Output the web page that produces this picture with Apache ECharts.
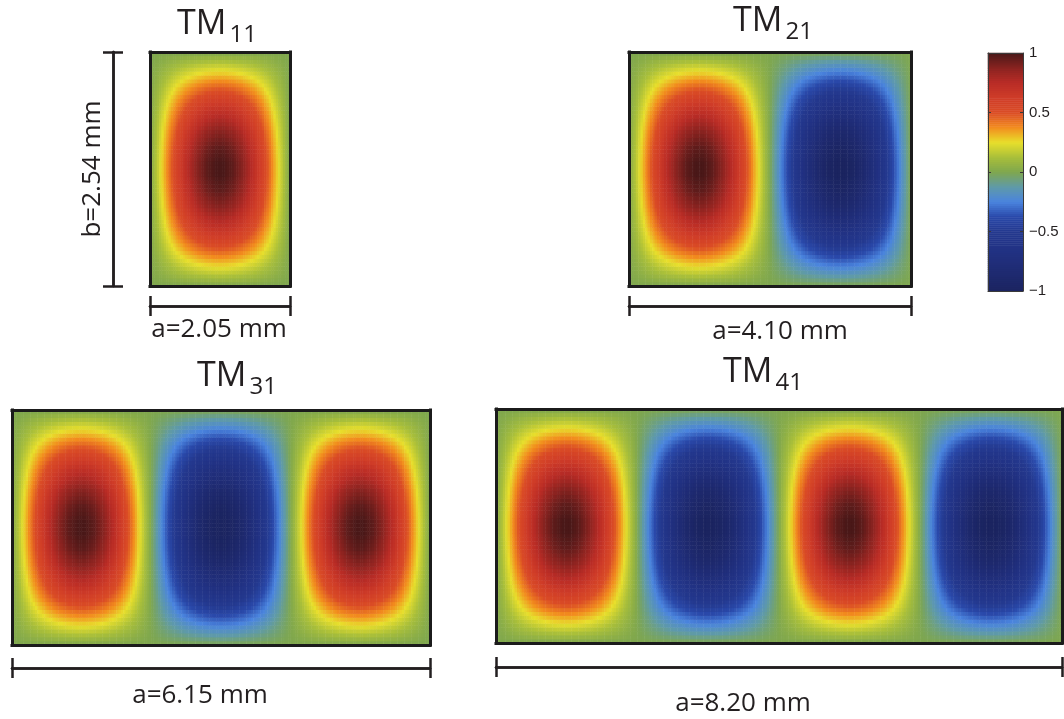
<!DOCTYPE html>
<html>
<head>
<meta charset="utf-8">
<script src="https://cdn.jsdelivr.net/npm/echarts@6/dist/echarts.min.js"></script>
<style>
  html, body { margin: 0; padding: 0; background: #ffffff; }
  #chart { width: 1064px; height: 719px; }
</style>
</head>
<body>
<div id="chart"></div>
<script>
// TM_m1 field patterns over the waveguide cross-section a x b
const modeLabels = ['11', '21', '31', '41'];
const widthsMm = [2.05, 4.10, 6.15, 8.20];
const widthLabels = ['a=2.05 mm', 'a=4.10 mm', 'a=6.15 mm', 'a=8.20 mm'];
const heightMm = 2.54;
const heightLabel = 'b=2.54 mm';

// sign of each half-wave lobe, left to right
const lobeSigns = [[1], [1, -1], [1, -1, 1], [1, -1, 1, -1]];

// normalized field amplitude across one lobe, from the wall to the centre
const halfProfile = [0.03, 0.08, 0.13, 0.18, 0.23, 0.28, 0.33, 0.38, 0.43, 0.48,
                     0.52, 0.57, 0.61, 0.65, 0.69, 0.73, 0.76, 0.79, 0.82, 0.85,
                     0.88, 0.90, 0.92, 0.94, 0.96, 0.97, 0.98, 0.99, 1.00, 1.00];

// colour scale
const scaleMin = -1;
const scaleMax = 1;
const scaleStep = 0.5;
const fieldColors = ['#1b2460', '#1e296e', '#202e7b', '#223386', '#24398f', '#2a49aa',
                     '#4a84de', '#5f9aa8', '#7fa74e', '#a9bf3a', '#e8df2c', '#f28c1e',
                     '#da4c26', '#cf3c28', '#b92c26', '#8a2320', '#4a1818'];

// layout of the four panels (pixels)
const panelBoxes = [
  { left: 150, top: 52,  width: 140, height: 234, barOffset: 20, labelGap: 11, labelShift: -1,  titleGap: 5,  titleShift: -3 },
  { left: 629, top: 52,  width: 282, height: 234, barOffset: 20, labelGap: 13, labelShift: 10,  titleGap: 8,  titleShift: 3 },
  { left: 12,  top: 410, width: 418, height: 235, barOffset: 23, labelGap: 15, labelShift: -21, titleGap: 11, titleShift: 16 },
  { left: 496, top: 409, width: 566, height: 234, barOffset: 24, labelGap: 24, labelShift: -36, titleGap: 14, titleShift: -16 }
];
const colorbarBox = { left: 988, top: 53, width: 35, height: 238 };

const font = "'Open Sans', sans-serif";
const ink = '#231f20';

const profile = halfProfile.concat(halfProfile.slice().reverse());
const range = n => Array.from({ length: n }, (_, i) => i);

function panelCells(p) {
  const n = profile.length;
  const cells = [];
  lobeSigns[p].forEach((s, k) => {
    for (let i = 0; i < n; i++) {
      for (let j = 0; j < n; j++) {
        cells.push([k * n + i, j, +(s * profile[i] * profile[j]).toFixed(4)]);
      }
    }
  });
  return cells;
}

function shiftPad(s) {
  return s >= 0 ? [0, 0, 0, 2 * s] : [0, -2 * s, 0, 0];
}

const frameLine = { show: true, onZero: false, lineStyle: { color: '#1b1b1b', width: 3, cap: 'square' } };
const bare = { axisTick: { show: false }, axisLabel: { show: false }, splitLine: { show: false } };
const barLine = { show: true, onZero: false, lineStyle: { color: ink, width: 2.5 } };

const grids = [];
const xAxes = [];
const yAxes = [];
const series = [];

panelBoxes.forEach((b, p) => {
  grids.push({ left: b.left, top: b.top, width: b.width, height: b.height });
  const nx = lobeSigns[p].length * profile.length;

  const catX = xAxes.length;
  xAxes.push(Object.assign({ gridIndex: p, type: 'category', position: 'bottom', data: range(nx), axisLine: frameLine, z: 10 }, bare));
  xAxes.push(Object.assign({
    gridIndex: p, type: 'value', position: 'top', min: 0, max: widthsMm[p], axisLine: frameLine, z: 10,
    name: '{t|TM}{s|' + modeLabels[p] + '}', nameLocation: 'middle', nameGap: b.titleGap,
    nameTextStyle: {
      padding: shiftPad(b.titleShift),
      rich: {
        t: { fontFamily: font, fontSize: 34, color: ink, verticalAlign: 'bottom', padding: [0, 0, 6, 0] },
        s: { fontFamily: font, fontSize: 24, color: ink, verticalAlign: 'bottom', padding: [0, 0, 0, 3] }
      }
    }
  }, bare));
  // dimension bar for the width a: outer and inner end caps
  [false, true].forEach(inside => {
    xAxes.push({
      gridIndex: p, type: 'value', position: 'bottom', offset: b.barOffset,
      min: 0, max: widthsMm[p], interval: widthsMm[p],
      axisLine: barLine,
      axisTick: { show: true, inside: inside, length: 10, lineStyle: { color: ink, width: 2.5 } },
      axisLabel: { show: false }, splitLine: { show: false },
      name: inside ? '' : widthLabels[p], nameLocation: 'middle', nameGap: b.labelGap,
      nameTextStyle: { fontFamily: font, fontSize: 26, color: ink, padding: shiftPad(b.labelShift) }
    });
  });

  const catY = yAxes.length;
  yAxes.push(Object.assign({ gridIndex: p, type: 'category', position: 'left', data: range(profile.length), axisLine: frameLine, z: 10 }, bare));
  yAxes.push(Object.assign({ gridIndex: p, type: 'value', position: 'right', min: 0, max: heightMm, axisLine: frameLine, z: 10 }, bare));
  if (p === 0) {
    // dimension bar for the height b
    [false, true].forEach(inside => {
      yAxes.push({
        gridIndex: p, type: 'value', position: 'left', offset: 37,
        min: 0, max: heightMm, interval: heightMm,
        axisLine: barLine,
        axisTick: { show: true, inside: inside, length: 10, lineStyle: { color: ink, width: 2.5 } },
        axisLabel: { show: false }, splitLine: { show: false },
        name: inside ? '' : heightLabel, nameLocation: 'middle', nameGap: 7,
        nameTextStyle: { fontFamily: font, fontSize: 26, color: ink }
      });
    });
  }

  series.push({
    type: 'heatmap', xAxisIndex: catX, yAxisIndex: catY,
    data: panelCells(p), progressive: 0, emphasis: { disabled: true }
  });
});

// colour bar
const cbGrid = grids.length;
grids.push({ left: colorbarBox.left, top: colorbarBox.top, width: colorbarBox.width, height: colorbarBox.height });
const rampLevels = 120;
const rampCells = range(rampLevels).map(i => [0, i, scaleMin + (i + 0.5) * (scaleMax - scaleMin) / rampLevels]);
const cbLine = { show: true, onZero: false, lineStyle: { color: '#3a3a3a', width: 1 } };
const cbX = xAxes.length;
xAxes.push(Object.assign({ gridIndex: cbGrid, type: 'category', position: 'bottom', data: ['cb'], axisLine: cbLine, z: 10 }, bare));
xAxes.push(Object.assign({ gridIndex: cbGrid, type: 'value', position: 'top', axisLine: cbLine, z: 10 }, bare));
const cbY = yAxes.length;
yAxes.push(Object.assign({ gridIndex: cbGrid, type: 'category', position: 'left', data: range(rampLevels), axisLine: { show: false } }, bare));
yAxes.push({
  gridIndex: cbGrid, type: 'value', position: 'left', min: scaleMin, max: scaleMax, interval: scaleStep, z: 10,
  axisLine: cbLine, axisTick: { show: true, inside: true, length: 3, lineStyle: { color: '#3a3a3a' } },
  axisLabel: { show: false }, splitLine: { show: false }
});
yAxes.push({
  gridIndex: cbGrid, type: 'value', position: 'right', min: scaleMin, max: scaleMax, interval: scaleStep, z: 10,
  axisLine: cbLine, axisTick: { show: true, inside: true, length: 3, lineStyle: { color: '#3a3a3a' } },
  axisLabel: {
    show: true, margin: 6, color: ink, fontSize: 15, fontFamily: "'Liberation Sans', Arial, sans-serif",
    formatter: v => (v < 0 ? '\u2212' + Math.abs(v) : String(v))
  },
  splitLine: { show: false }
});
series.push({
  type: 'heatmap', xAxisIndex: cbX, yAxisIndex: cbY, data: rampCells,
  progressive: 0, emphasis: { disabled: true }
});

const chart = echarts.init(document.getElementById('chart'), null, { renderer: 'canvas' });
chart.setOption({
  animation: false,
  backgroundColor: '#ffffff',
  grid: grids,
  xAxis: xAxes,
  yAxis: yAxes,
  visualMap: {
    type: 'continuous', show: false, min: scaleMin, max: scaleMax, dimension: 2,
    seriesIndex: range(series.length),
    inRange: { color: fieldColors }
  },
  series: series
});
</script>
</body>
</html>
